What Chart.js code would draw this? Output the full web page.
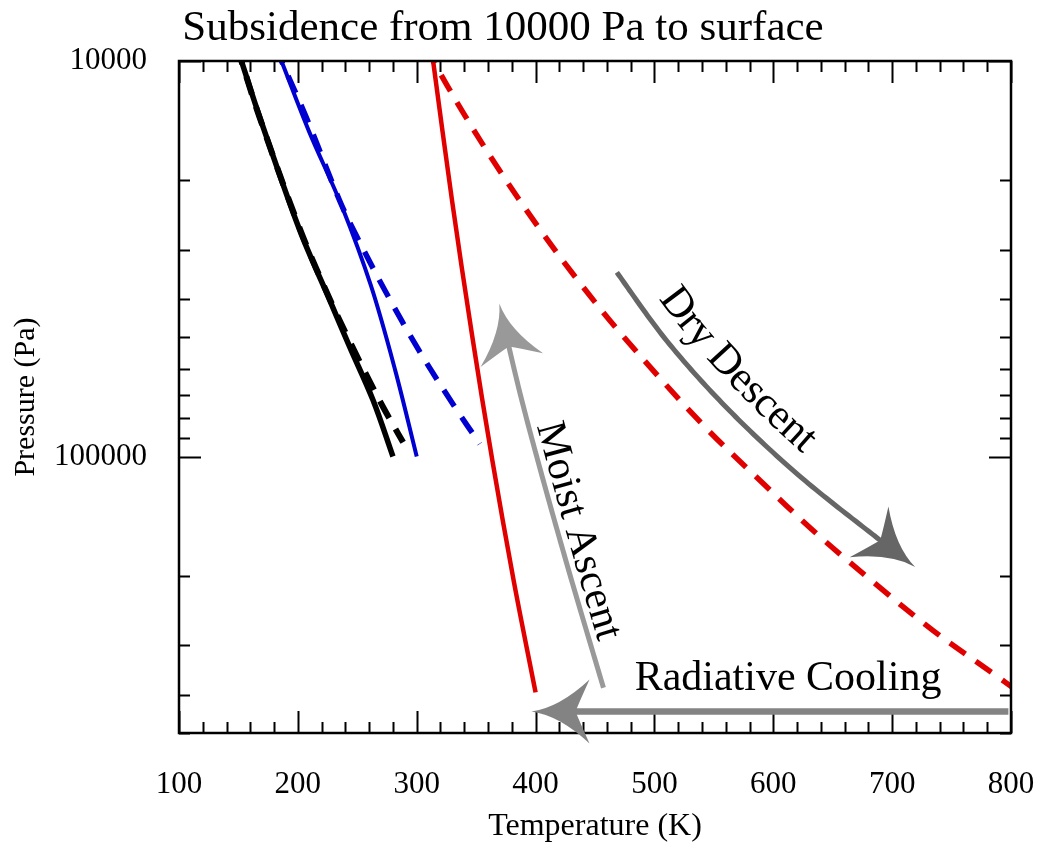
<!DOCTYPE html>
<html><head><meta charset="utf-8">
<script src="https://cdn.jsdelivr.net/npm/chart.js@4/dist/chart.umd.min.js"></script>
<style>html,body{margin:0;padding:0;background:#fff;}#wrap{width:1038px;height:846px;}</style>
</head><body><div id="wrap"><canvas id="c" width="1038" height="846"></canvas></div>
<script>
const FONT = '"Liberation Serif", "Times New Roman", serif';
const titleText = 'Subsidence from 10000 Pa to surface';
const xTickValues = [100, 200, 300, 400, 500, 600, 700, 800];
const yTickValues = [10000, 100000];

// black profile (surface 280 K)
const blackMoistT = [152.5, 167.9, 201.6, 226.9, 243.7, 263.3, 280.0];
const blackMoistP = [10000, 13860, 26800, 40300, 52900, 72100, 100000];
const blackDryT = [152.5, 167.7, 202.2, 227.4, 246.0, 260.0, 271.8, 284.4, 288.6];
const blackDryP = [10000, 13860, 26800, 40300, 52900, 64200, 75060, 87600, 92000];
// blue profile (surface 300 K)
const blueMoistT = [186.2, 209.3, 237.0, 261.5, 281.8, 300.0];
const blueMoistP = [10000, 15040, 23290, 37000, 60380, 100000];
const blueDryT = [186.2, 207.0, 235.2, 249.8, 273.3, 301.9, 332.2, 353.1];
const blueDryP = [10000, 13860, 22560, 27870, 38030, 53930, 75060, 92880];
// red profile (surface 400 K)
const redMoistT = [313.8, 329.8, 346.5, 363.7, 381.5, 400.0];
const redMoistP = [10000, 22630, 49200, 102500, 205300, 394800];
const redDryT = [313.8, 337.9, 367.8, 402.3, 435.6, 474.4, 540.0, 586.0, 636.7, 686.0, 734.5, 787.5, 809.5];
const redDryP = [10000, 13330, 18540, 26300, 35860, 49920, 82660, 112800, 156900, 209900, 275400, 358100, 400000];

// annotation arrows (temperature K, pressure Pa), last point = arrow tip
const dryDescentPath = [[468.4, 34230], [510.5, 51040], [561.4, 75600], [621.2, 111400], [689.8, 162700], [719.4, 190200]];
const moistAscentPath = [[457.1, 384100], [429.0, 199300], [406.5, 115000], [389.3, 73830], [377.5, 52680], [369.5, 41010]];
const radiativePath = [[797.8, 441000], [396.6, 441000]];
const radiativeLabelAt = [612.4, 388600];

function series(T, P, color, width, dashed) {
  return {
    data: T.map((t, i) => ({x: t, y: P[i]})),
    borderColor: color, borderWidth: width,
    borderDash: dashed ? [19, 13] : [], borderDashOffset: dashed ? 16 : 0,
    borderCapStyle: 'butt', pointRadius: 0, pointHoverRadius: 0,
    fill: false, tension: 0.35
  };
}

function catmull(pts, n) {
  const out = [];
  for (let i = 0; i < pts.length - 1; i++) {
    const p0 = pts[Math.max(i - 1, 0)], p1 = pts[i], p2 = pts[i + 1], p3 = pts[Math.min(i + 2, pts.length - 1)];
    for (let k = 0; k < n; k++) {
      const t = k / n, t2 = t * t, t3 = t2 * t;
      const f = j => 0.5 * (2 * p1[j] + (-p0[j] + p2[j]) * t + (2 * p0[j] - 5 * p1[j] + 4 * p2[j] - p3[j]) * t2 + (-p0[j] + 3 * p1[j] - 3 * p2[j] + p3[j]) * t3);
      out.push([f(0), f(1)]);
    }
  }
  out.push(pts[pts.length - 1]);
  return out;
}

function toPix(chart, path) {
  const xs = chart.scales.x, ys = chart.scales.y;
  return path.map(([t, p]) => [xs.getPixelForValue(t), ys.getPixelForValue(p)]);
}

function drawArrow(ctx, pix, color, lw) {
  const headLen = 58, headW = 32, notch = 44;
  const dense = catmull(pix, 24);
  const tip = dense[dense.length - 1];
  let idx = dense.length - 1, acc = 0;
  while (idx > 0) {
    const a = dense[idx], b = dense[idx - 1];
    const d = Math.hypot(a[0] - b[0], a[1] - b[1]);
    if (acc + d >= notch) break;
    acc += d; idx--;
  }
  let N = dense[idx];
  let dx = tip[0] - N[0], dy = tip[1] - N[1];
  const L = Math.hypot(dx, dy); dx /= L; dy /= L;
  N = [tip[0] - dx * notch, tip[1] - dy * notch];
  const nx = -dy, ny = dx;
  const P = (a, p) => [tip[0] + dx * a + nx * p, tip[1] + dy * a + ny * p];
  ctx.save();
  ctx.strokeStyle = color; ctx.lineWidth = lw; ctx.lineCap = 'butt'; ctx.lineJoin = 'round';
  ctx.beginPath();
  ctx.moveTo(dense[0][0], dense[0][1]);
  for (let i = 1; i <= idx; i++) ctx.lineTo(dense[i][0], dense[i][1]);
  ctx.lineTo(N[0] + dx * 4, N[1] + dy * 4);
  ctx.stroke();
  ctx.fillStyle = color;
  const B1 = P(-headLen, headW), B2 = P(-headLen, -headW), C1 = P(-28, 4), C2 = P(-28, -4);
  const Nt = P(-notch, 0), D1 = P(-notch - 4, 10), D2 = P(-notch - 4, -10);
  ctx.beginPath();
  ctx.moveTo(tip[0], tip[1]);
  ctx.quadraticCurveTo(C1[0], C1[1], B1[0], B1[1]);
  ctx.quadraticCurveTo(D1[0], D1[1], Nt[0], Nt[1]);
  ctx.quadraticCurveTo(D2[0], D2[1], B2[0], B2[1]);
  ctx.quadraticCurveTo(C2[0], C2[1], tip[0], tip[1]);
  ctx.closePath();
  ctx.fill();
  ctx.restore();
  return dense;
}

function textOnPath(ctx, text, dense, startS, offset) {
  const cum = [0];
  for (let i = 1; i < dense.length; i++) cum.push(cum[i - 1] + Math.hypot(dense[i][0] - dense[i - 1][0], dense[i][1] - dense[i - 1][1]));
  function at(s) {
    let i = 1;
    while (i < dense.length - 1 && cum[i] < s) i++;
    const a = dense[i - 1], b = dense[i];
    const seg = cum[i] - cum[i - 1] || 1;
    const f = (s - cum[i - 1]) / seg;
    return {x: a[0] + (b[0] - a[0]) * f, y: a[1] + (b[1] - a[1]) * f, ang: Math.atan2(b[1] - a[1], b[0] - a[0])};
  }
  let s = startS;
  for (const ch of text) {
    const w = ctx.measureText(ch).width;
    const p = at(s + w / 2);
    ctx.save();
    ctx.translate(p.x + Math.sin(p.ang) * offset, p.y - Math.cos(p.ang) * offset);
    ctx.rotate(p.ang);
    ctx.fillText(ch, 0, 0);
    ctx.restore();
    s += w;
  }
}

const framePlugin = {
  id: 'frame',
  afterDraw(chart) {
    const ctx = chart.ctx, a = chart.chartArea, xs = chart.scales.x, ys = chart.scales.y;
    ctx.save();
    // title
    ctx.fillStyle = '#000';
    ctx.font = '43px ' + FONT;
    ctx.textAlign = 'center'; ctx.textBaseline = 'alphabetic';
    ctx.fillText(titleText, 503, 40);
    // ticks
    ctx.strokeStyle = '#000'; ctx.lineWidth = 2;
    ctx.beginPath();
    for (let v = 100; v <= 800; v += 20) {
      const x = Math.round(xs.getPixelForValue(v)) + 0.5;
      const len = (v % 100 === 0) ? 22 : 11;
      ctx.moveTo(x, a.bottom); ctx.lineTo(x, a.bottom - len);
      ctx.moveTo(x, a.top); ctx.lineTo(x, a.top + len);
    }
    const yv = [];
    for (let d = 10000; d <= 100000; d *= 10) for (let m = 1; m <= 9; m++) { const v = m * d; if (v >= 10000 && v <= 500000) yv.push(v); }
    for (const v of yv) {
      const y = Math.round(ys.getPixelForValue(v)) + 0.5;
      const len = (v === 10000 || v === 100000) ? 22 : 11;
      ctx.moveTo(a.left, y); ctx.lineTo(a.left + len, y);
      ctx.moveTo(a.right, y); ctx.lineTo(a.right - len, y);
    }
    ctx.stroke();
    ctx.lineWidth = 2.5;
    ctx.strokeRect(a.left, a.top, a.right - a.left, a.bottom - a.top);
    // arrows
    const dd = drawArrow(ctx, toPix(chart, dryDescentPath), '#666666', 5);
    const ma = drawArrow(ctx, toPix(chart, moistAscentPath), '#999999', 5);
    drawArrow(ctx, toPix(chart, radiativePath), '#838383', 6.5);
    ctx.fillStyle = '#000';
    ctx.font = '43px ' + FONT;
    ctx.textAlign = 'center'; ctx.textBaseline = 'alphabetic';
    textOnPath(ctx, 'Dry Descent', dd, 46, 19);
    ctx.font = '42px ' + FONT;
    textOnPath(ctx, 'Moist Ascent', ma.slice().reverse(), 128, 8);
    const rp = toPix(chart, [radiativeLabelAt])[0];
    ctx.fillText('Radiative Cooling', rp[0], rp[1]);
    ctx.restore();
  }
};

new Chart(document.getElementById('c'), {
  type: 'line',
  data: {
    datasets: [
      series(redDryT, redDryP, '#e00000', 5.5, true),
      series(redMoistT, redMoistP, '#e00000', 4.5, false),
      series(blueDryT, blueDryP, '#0000d0', 5.5, true),
      series(blueMoistT, blueMoistP, '#0000d0', 4, false),
      series(blackDryT, blackDryP, '#000000', 6, true),
      series(blackMoistT, blackMoistP, '#000000', 5.5, false)
    ]
  },
  options: {
    responsive: false, animation: false, devicePixelRatio: 1,
    layout: {padding: {top: 61, right: 27, left: 0, bottom: 0}},
    plugins: {legend: {display: false}, tooltip: {enabled: false}, title: {display: false}},
    scales: {
      x: {
        type: 'linear', min: 100, max: 800, position: 'bottom',
        grid: {display: false, drawTicks: false}, border: {display: false},
        afterBuildTicks: s => { s.ticks = xTickValues.map(v => ({value: v})); },
        ticks: {font: {family: FONT, size: 31}, color: '#000', padding: 33, maxRotation: 0, autoSkip: false, callback: v => String(v)},
        title: {display: true, text: 'Temperature (K)', font: {family: FONT, size: 32}, color: '#000', padding: {top: 0, bottom: 0}},
        afterFit: s => { s.height = 113; s.paddingLeft = 0; s.paddingRight = 0; }
      },
      y: {
        type: 'logarithmic', reverse: true, min: 10000, max: 500000, position: 'left',
        grid: {display: false, drawTicks: false}, border: {display: false},
        afterBuildTicks: s => { s.ticks = yTickValues.map(v => ({value: v})); },
        ticks: {font: {family: FONT, size: 31}, color: '#000', padding: 32, autoSkip: false, callback: v => String(v)},
        title: {display: true, text: 'Pressure (Pa)', font: {family: FONT, size: 30}, color: '#000', padding: {top: 8, bottom: 0}},
        afterFit: s => { s.width = 179; s.paddingTop = 0; s.paddingBottom = 0; }
      }
    }
  },
  plugins: [framePlugin]
});
</script>
</body></html>
